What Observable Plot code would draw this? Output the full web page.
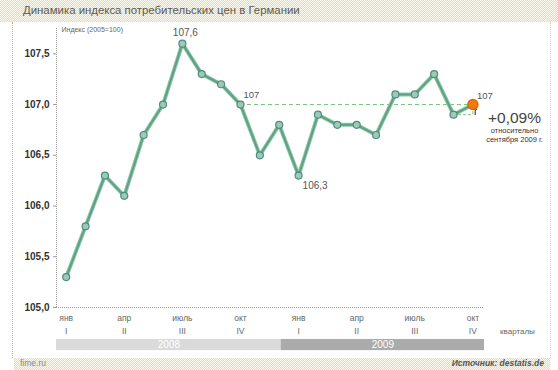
<!DOCTYPE html>
<html>
<head>
<meta charset="utf-8">
<script src="https://cdn.jsdelivr.net/npm/d3@7"></script>
<script src="https://cdn.jsdelivr.net/npm/@observablehq/plot@0.6"></script>
<style>
  html, body { margin: 0; padding: 0; background: #fff; }
  #wrap { position: relative; width: 558px; height: 370px; overflow: hidden; font-family: "Liberation Sans", Arial, sans-serif; }
  .pat { background: repeating-conic-gradient(#e4ddb0 0 25%, #fbf9ee 0 50%) 0 0/2px 2px; }
  #head { position: absolute; left: 0; top: 0; width: 558px; height: 22px; }
  #title { position: absolute; left: 23px; top: 4px; font-size: 11.4px; color: #5e5a4c; white-space: nowrap; }
  #foot { position: absolute; left: 14px; top: 358px; width: 536px; height: 12px; }
  #src1 { position: absolute; left: 6px; top: 0px; font-size: 8.5px; color: #8a8a80; }
  #src2 { position: absolute; right: 6px; top: 0px; font-size: 8.5px; color: #555; font-style: italic; font-weight: bold; }
  #lborder { position: absolute; left: 12px; top: 22px; width: 0; height: 336px; border-left: 1px dotted #f0a070; }
  #rborder { position: absolute; left: 550px; top: 22px; width: 0; height: 336px; border-left: 1px dotted #e8dc90; }
  #chart { position: absolute; left: 0; top: 22px; }
</style>
</head>
<body>
<div id="wrap">
  <div id="head" class="pat"><div id="title">Динамика индекса потребительских цен в Германии</div></div>
  <div id="lborder"></div>
  <div id="rborder"></div>
  <div id="chart"></div>
  <div id="foot" class="pat"><span id="src1">fime.ru</span><span id="src2">Источник: destatis.de</span></div>
</div>
<script>
// Monthly CPI, Jan 2008 .. Oct 2009 (2005 = 100)
const values = [105.3, 105.8, 106.3, 106.1, 106.7, 107.0, 107.6, 107.3, 107.2, 107.0, 106.5, 106.8,
                106.3, 106.9, 106.8, 106.8, 106.7, 107.1, 107.1, 107.3, 106.9, 107.0];
const monthTicks = [0, 3, 6, 9, 12, 15, 18, 21];
const monthLabels = ["янв", "апр", "июль", "окт", "янв", "апр", "июль", "окт"];
const quarterLabels = ["I", "II", "III", "IV", "I", "II", "III", "IV"];
const yTicks = [105.0, 105.5, 106.0, 106.5, 107.0, 107.5];
const years = ["2008", "2009"];
const yearStart = [-0.5, 11.1];
const yearEnd = [11.1, 21.6];
const baseIndex = 9;      // октябрь 2008
const lastIndex = 21;     // октябрь 2009
const prevIndex = 20;     // сентябрь 2009

const pts = values.map((v, i) => ({i, v}));
const bands = years.map((y, k) => ({y, x1: yearStart[k], x2: yearEnd[k]}));
const ticksX = monthTicks.map((t, k) => ({t, m: monthLabels[k], q: quarterLabels[k]}));
const fmt = d => d.toFixed(1).replace(".", ",");

const lineColor = "#5f9e8c";
const dashColor = "#7cc27c";

const chart = Plot.plot({
  width: 558,
  height: 336,
  marginLeft: 56,
  marginRight: 74,
  marginTop: 11,
  marginBottom: 51,
  x: {type: "linear", domain: [-0.5, 21.6], axis: null},
  y: {type: "linear", domain: [105, 107.7], axis: null},
  style: {fontFamily: "'Liberation Sans', Arial, sans-serif", background: "transparent", overflow: "visible"},
  marks: [
    // axes lines (dotted)
    Plot.ruleX([-0.5], {y1: 105, y2: 107.75, stroke: "#999", strokeDasharray: "1,1"}),
    Plot.ruleY([105], {x1: -0.5, x2: 21.6, stroke: "#999", strokeDasharray: "1,1"}),
    Plot.axisY({ticks: yTicks, tickFormat: fmt, tickSize: 3, tickPadding: 4, fontSize: 10, fontWeight: "bold", color: "#333", stroke: "#999", label: null}),
    Plot.text(["Индекс (2005=100)"], {x: -0.5, y: 107.75, text: d => d, textAnchor: "start", dx: 5, dy: 1, fontSize: 7, fill: "#666"}),
    // month / quarter labels
    Plot.text(ticksX, {x: "t", y: 105, text: "m", dy: 11, fontSize: 8.5, fill: "#666"}),
    Plot.text(ticksX, {x: "t", y: 105, text: "q", dy: 24, fontSize: 8.5, fill: "#666"}),
    Plot.text(["кварталы"], {x: 23.3, y: 105, text: d => d, dy: 24, fontSize: 8, fill: "#666"}),
    // year bands
    Plot.rect(bands, {x1: "x1", x2: "x2", y1: 104.575, y2: 104.685, fill: (d, k) => k === 0 ? "#dadada" : "#ababab"}),
    Plot.text(bands, {x: d => (d.x1 + d.x2) / 2, y: 104.63, text: "y", fill: "#fff", fontSize: 10}),
    // reference dashed lines
    Plot.ruleY([values[baseIndex]], {x1: baseIndex, x2: lastIndex, stroke: dashColor, strokeDasharray: "4,3", strokeWidth: 1}),
    Plot.ruleY([values[prevIndex]], {x1: prevIndex, x2: lastIndex, stroke: dashColor, strokeDasharray: "3,2", strokeWidth: 1}),
    Plot.ruleX([lastIndex], {y1: values[prevIndex], y2: values[lastIndex], stroke: dashColor, strokeDasharray: "3,2", strokeWidth: 1}),
    Plot.arrow([0], {x1: lastIndex + 0.12, x2: lastIndex + 0.12, y1: values[prevIndex], y2: values[lastIndex] - 0.03, stroke: "#222", strokeWidth: 1, headLength: 4}),
    // series
    Plot.line(pts, {x: "i", y: "v", stroke: "#8ccaa0", strokeWidth: 4, strokeLinejoin: "round"}),
    Plot.line(pts, {x: "i", y: "v", stroke: lineColor, strokeWidth: 2, strokeLinejoin: "round"}),
    Plot.dot(pts.slice(0, lastIndex), {x: "i", y: "v", r: 3.5, fill: "#9ccab4", stroke: "#4d8c7e", strokeWidth: 1.2}),
    Plot.dot([pts[lastIndex]], {x: "i", y: "v", r: 5, fill: "#f07a10", stroke: "#e06a00"}),
    // value labels
    Plot.text([pts[6]], {x: "i", y: "v", text: d => fmt(d.v), dy: -11, dx: 3, fontSize: 10, fill: "#555"}),
    Plot.text([pts[baseIndex]], {x: "i", y: "v", text: d => String(Math.round(d.v)), dy: -10, dx: 3, textAnchor: "start", fontSize: 9.5, fill: "#555"}),
    Plot.text([pts[12]], {x: "i", y: "v", text: d => fmt(d.v), dy: 10, dx: 4, textAnchor: "start", fontSize: 10, fill: "#555"}),
    Plot.text([pts[lastIndex]], {x: "i", y: "v", text: d => String(Math.round(d.v)), dy: -9, dx: 4, textAnchor: "start", fontSize: 9.5, fill: "#555"}),
    Plot.text(["+0,09%"], {x: 23.15, y: 106.87, text: d => d, fontSize: 15.5, fill: "#444"}),
    Plot.text(["относительно"], {x: 23.15, y: 106.74, text: d => d, fontSize: 7.5, fill: "#333"}),
    Plot.text(["сентября 2009 г."], {x: 23.15, y: 106.655, text: d => d, fontSize: 7.5, fill: "#333"})
  ]
});
document.getElementById("chart").appendChild(chart);
</script>
</body>
</html>
